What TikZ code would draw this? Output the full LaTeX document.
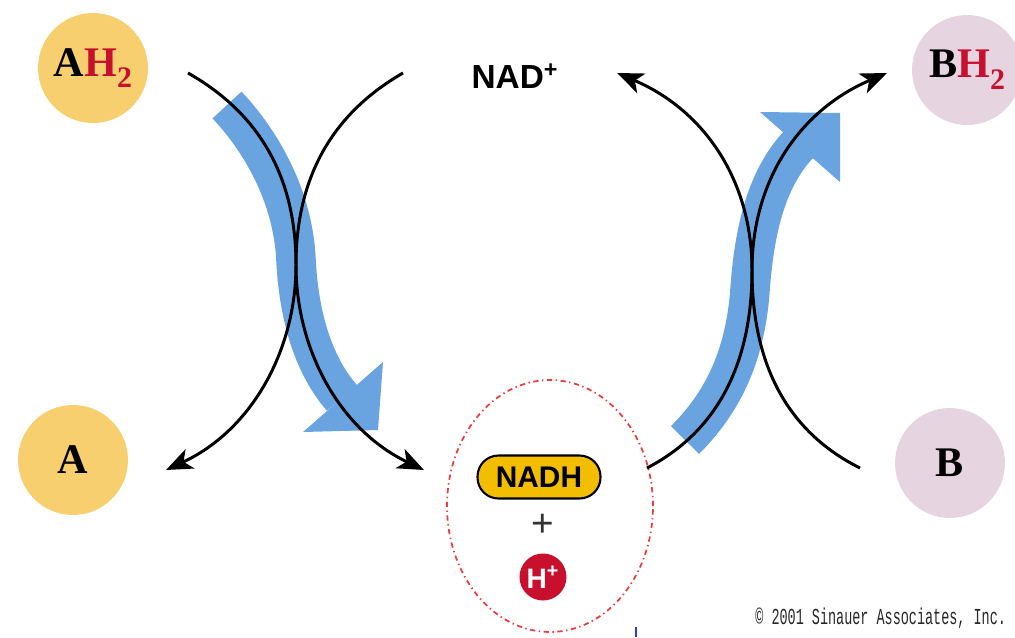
\documentclass[tikz,border=0pt]{standalone}
\usepackage{fontspec}
\setmainfont{Liberation Serif}
\setsansfont{Liberation Sans}
\setmonofont{Liberation Mono}
\usetikzlibrary{arrows.meta,shapes.geometric}
\definecolor{sugar}{HTML}{F8CF6E}
\definecolor{mauve}{HTML}{E6D5E0}
\definecolor{flux}{HTML}{6AA4E0}
\definecolor{nadhy}{HTML}{F4BE00}
\definecolor{hred}{HTML}{C8102E}
\definecolor{ringred}{HTML}{EE3B3B}

\begin{document}
\begin{tikzpicture} [x=0.02cm, y=-0.02cm,
          mol/.style={circle, minimum size=2.2cm, inner sep=0,
            font=\fontsize{24}{24}\selectfont\bfseries},
          rxn/.style={line width=1.7pt,
            -{Stealth[length=15pt, width=12pt, inset=4pt]}},
          flow/.style={draw=flux, line width=22.5pt},
          flowhead/.style={fill=flux}]
  \useasboundingbox (0,0) rectangle (1015,637);

  \node[mol, fill=sugar] (AH2) at (93,68)
    {A\textcolor{hred}{H\raisebox{-0.28em}{\fontsize{17}{17}\selectfont 2}}};
  \node[mol, fill=sugar] (A) at (73,460) {A};
  \node[mol, fill=mauve] (BH2) at (967,70)
    {B\textcolor{hred}{H\raisebox{-0.28em}{\fontsize{17}{17}\selectfont 2}}};
  \node[mol, fill=mauve] (B) at (950,463) {B};
  \node[font=\sffamily\bfseries\fontsize{19}{19}\selectfont] (NAD)
    at (515,76) {NAD\textsuperscript{+}};

  \node[ellipse, draw=ringred, line width=1pt,
    dash pattern=on 3pt off 2pt on 0.8pt off 2pt,
    minimum width=4.12cm, minimum height=5.04cm, inner sep=0] (pool) at (550,506) {};
  \node[draw, fill=nadhy, line width=1.2pt, rounded corners=0.42cm,
    minimum width=2.46cm, minimum height=0.86cm, inner sep=0,
    font=\sffamily\bfseries\fontsize{17}{17}\selectfont] (NADH) at (539,477) {NADH};
  \node[text=black!80, font=\sffamily\fontsize{22}{22}\selectfont] (plus) at (543,525) {+};
  \node[circle, fill=hred, minimum size=0.94cm, inner sep=0, text=white,
    font=\sffamily\bfseries\fontsize{16}{16}\selectfont] (Hp) at (543,577) {H\textsuperscript{+}};

  \node[anchor=base west, inner sep=0, text=black!85,
    font=\ttfamily\fontsize{13}{13}\selectfont] (copy) at (755,624)
    {\scalebox{0.59}[1]{© 2001 Sinauer Associates, Inc.}};
  \draw[blue!80, line width=1.2pt] (636,627) -- (636,637);

  % ends of the reaction curves
  \coordinate (ah2out) at (188,73);
  \coordinate (nadhin) at (424,470);
  \coordinate (nadout) at (403,73);
  \coordinate (ain) at (166,470);
  \coordinate (nadhout) at (647,468);
  \coordinate (bh2in) at (887,73);
  \coordinate (bout) at (860,468);
  \coordinate (nadin) at (617,73);

  % blue electron flow
  \coordinate (l0) at (227,105);
  \coordinate (lm) at (296,260);
  \coordinate (l1) at (342,398);
  \draw[flow] (l0) .. controls (260,140) and (293,195) .. (lm)
    .. controls (299,320) and (315,367) .. (l1);
  \fill[flowhead] (303,432) -- (383,362) -- (378,430) -- cycle;
  \coordinate (r0) at (685,440);
  \coordinate (rm) at (750,290);
  \coordinate (r1) at (799,144);
  \draw[flow] (r0) .. controls (720,405) and (745,360) .. (rm)
    .. controls (755,220) and (770,175) .. (r1);
  \fill[flowhead] (760,112) -- (840,113) -- (840,182) -- cycle;

  \draw[rxn] (ah2out) .. controls (262,115) and (296,180) .. (296,265)
    .. controls (296,350) and (340,430) .. (nadhin);
  \draw[rxn] (nadout) .. controls (330,115) and (296,180) .. (296,265)
    .. controls (296,350) and (252,430) .. (ain);
  \draw[rxn] (nadhout) .. controls (720,430) and (752,360) .. (752,270)
    .. controls (752,180) and (800,110) .. (bh2in);
  \draw[rxn] (bout) .. controls (784,430) and (752,360) .. (752,270)
    .. controls (752,180) and (704,110) .. (nadin);
\end{tikzpicture}
\end{document}
